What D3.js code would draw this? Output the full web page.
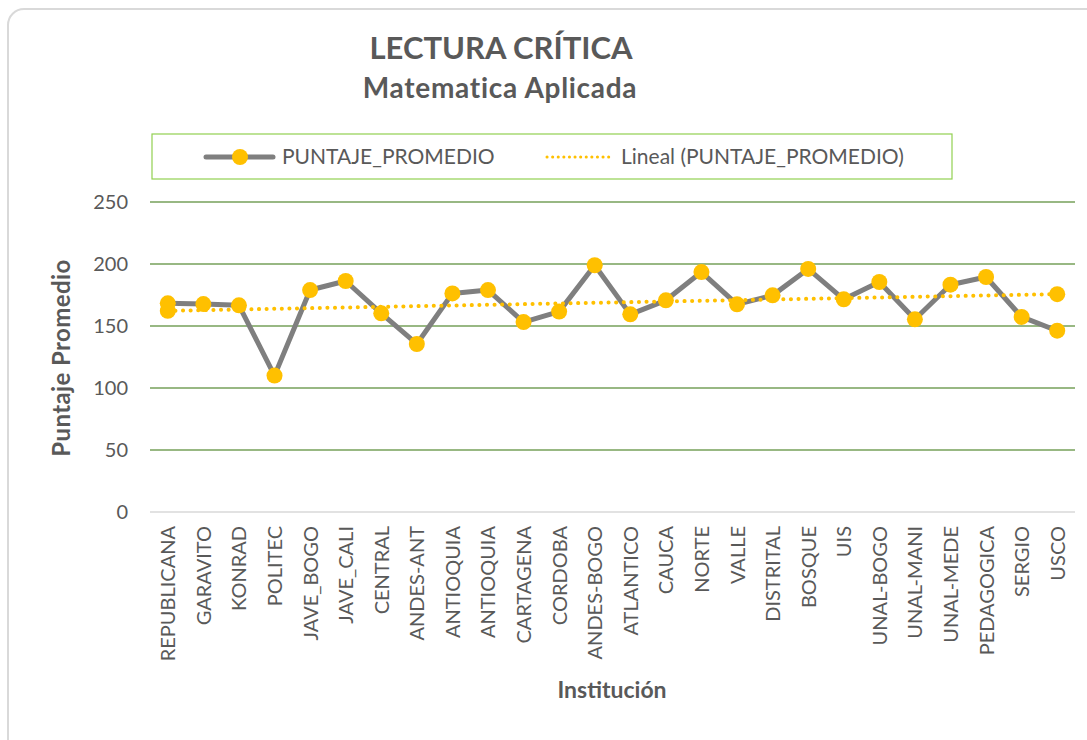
<!DOCTYPE html>
<html>
<head>
<meta charset="utf-8">
<script src="https://cdnjs.cloudflare.com/ajax/libs/d3/7.8.5/d3.min.js"></script>
<style>
  body { margin: 0; background: #fff; }
  text { font-family: Lato, "Open Sans", sans-serif; fill: #595959; }
</style>
</head>
<body>
<svg id="chart" width="1087" height="740"></svg>
<script>
// data
var categories = ['REPUBLICANA', 'GARAVITO', 'KONRAD', 'POLITEC', 'JAVE_BOGO', 'JAVE_CALI',
    'CENTRAL', 'ANDES-ANT', 'ANTIOQUIA', 'ANTIOQUIA ', 'CARTAGENA', 'CORDOBA', 'ANDES-BOGO',
    'ATLANTICO', 'CAUCA', 'NORTE', 'VALLE', 'DISTRITAL', 'BOSQUE', 'UIS', 'UNAL-BOGO',
    'UNAL-MANI', 'UNAL-MEDE', 'PEDAGOGICA', 'SERGIO', 'USCO'];
var puntaje = [168.3, 167.7, 166.7, 110, 179, 186.3, 160.2, 135.5, 176.3, 179, 153.2, 161.6, 199,
    159.4, 170.7, 193.5, 167.5, 174.7, 196, 171.5, 185.5, 155.4, 183.3, 189.5, 157.3, 146.2];
var yTicks = [0, 50, 100, 150, 200, 250];

var svg = d3.select('#chart');

// frame
svg.append('rect')
    .attr('x', 8).attr('y', 9)
    .attr('width', 1095).attr('height', 760)
    .attr('rx', 16)
    .attr('fill', '#fff')
    .attr('stroke', '#d9d9d9')
    .attr('stroke-width', 2);

var plotLeft = 150, plotRight = 1075, plotTop = 202, plotBottom = 512;

var x = d3.scalePoint()
    .domain(categories)
    .range([plotLeft, plotRight])
    .padding(0.5);

var y = d3.scaleLinear()
    .domain([0, 250])
    .range([plotBottom, plotTop]);

// titles
svg.append('text')
    .attr('x', 501).attr('y', 59)
    .attr('text-anchor', 'middle')
    .style('font-size', '31px').style('font-weight', 'bold')
    .text('LECTURA CRÍTICA');

svg.append('text')
    .attr('x', 500).attr('y', 98)
    .attr('text-anchor', 'middle')
    .style('font-size', '28px').style('font-weight', 'bold')
    .style('letter-spacing', '0.7px')
    .text('Matematica Aplicada');

// grid
svg.append('g')
    .selectAll('line')
    .data(yTicks)
    .enter().append('line')
    .attr('x1', plotLeft).attr('x2', plotRight)
    .attr('y1', function (d) { return y(d); })
    .attr('y2', function (d) { return y(d); })
    .attr('stroke', function (d) { return d === 0 ? '#d9d9d9' : '#76a05a'; })
    .attr('stroke-width', 1.5);

// y axis labels
var yAxis = svg.append('g')
    .attr('transform', 'translate(' + (plotLeft - 22) + ',0)')
    .call(d3.axisLeft(y).tickValues(yTicks).tickSize(0).tickPadding(0));
yAxis.select('.domain').remove();
yAxis.selectAll('text')
    .style('font-size', '20px')
    .style('font-family', 'Lato, "Open Sans", sans-serif')
    .attr('fill', '#595959');

// x axis labels
var xAxis = svg.append('g')
    .attr('transform', 'translate(0,' + (plotBottom + 14) + ')')
    .call(d3.axisBottom(x).tickSize(0).tickPadding(0));
xAxis.select('.domain').remove();
xAxis.selectAll('text')
    .attr('transform', 'rotate(-90)')
    .attr('text-anchor', 'end')
    .attr('x', 0)
    .attr('y', 0)
    .attr('dy', '0.35em')
    .style('font-size', '20px')
    .style('font-family', 'Lato, "Open Sans", sans-serif')
    .attr('fill', '#595959');

// axis titles
svg.append('text')
    .attr('transform', 'translate(70,358) rotate(-90)')
    .attr('text-anchor', 'middle')
    .style('font-size', '24px').style('font-weight', 'bold')
    .style('letter-spacing', '0.4px')
    .text('Puntaje  Promedio');

svg.append('text')
    .attr('x', 612).attr('y', 698)
    .attr('text-anchor', 'middle')
    .style('font-size', '23px').style('font-weight', 'bold')
    .text('Institución');

// linear trend (least squares on the series)
var n = puntaje.length;
var mx = d3.mean(puntaje, function (d, i) { return i; });
var my = d3.mean(puntaje);
var sxy = d3.sum(puntaje, function (d, i) { return (i - mx) * (d - my); });
var sxx = d3.sum(puntaje, function (d, i) { return (i - mx) * (i - mx); });
var slope = sxy / sxx;
var trend = [0, n - 1].map(function (i) {
    return [categories[i], my + slope * (i - mx)];
});

var line = d3.line()
    .x(function (d) { return x(d[0]); })
    .y(function (d) { return y(d[1]); });

var series = categories.map(function (c, i) { return [c, puntaje[i]]; });

svg.append('path')
    .datum(series)
    .attr('d', line)
    .attr('fill', 'none')
    .attr('stroke', '#7f7f7f')
    .attr('stroke-width', 5)
    .attr('stroke-linejoin', 'round');

svg.append('path')
    .datum(trend)
    .attr('d', line)
    .attr('fill', 'none')
    .attr('stroke', '#ffc000')
    .attr('stroke-width', 4)
    .attr('stroke-linecap', 'round')
    .attr('stroke-dasharray', '0.1 7.5');

svg.append('g')
    .selectAll('circle')
    .data(series.concat(trend))
    .enter().append('circle')
    .attr('cx', function (d) { return x(d[0]); })
    .attr('cy', function (d) { return y(d[1]); })
    .attr('r', 8)
    .attr('fill', '#ffc000');

// legend
var legend = svg.append('g');
legend.append('rect')
    .attr('x', 152).attr('y', 134)
    .attr('width', 800).attr('height', 45)
    .attr('fill', 'none')
    .attr('stroke', '#92d050')
    .attr('stroke-width', 1.2);

legend.append('line')
    .attr('x1', 206).attr('x2', 273)
    .attr('y1', 157).attr('y2', 157)
    .attr('stroke', '#7f7f7f').attr('stroke-width', 5)
    .attr('stroke-linecap', 'round');
legend.append('circle')
    .attr('cx', 240).attr('cy', 157).attr('r', 8)
    .attr('fill', '#ffc000');
legend.append('text')
    .attr('x', 282).attr('y', 164)
    .style('font-size', '21px')
    .text('PUNTAJE_PROMEDIO');

legend.append('line')
    .attr('x1', 547).attr('x2', 611)
    .attr('y1', 157).attr('y2', 157)
    .attr('stroke', '#ffc000').attr('stroke-width', 3)
    .attr('stroke-linecap', 'round')
    .attr('stroke-dasharray', '0.1 5.5');
legend.append('text')
    .attr('x', 621).attr('y', 164)
    .style('font-size', '21px')
    .text('Lineal (PUNTAJE_PROMEDIO)');
</script>
</body>
</html>
